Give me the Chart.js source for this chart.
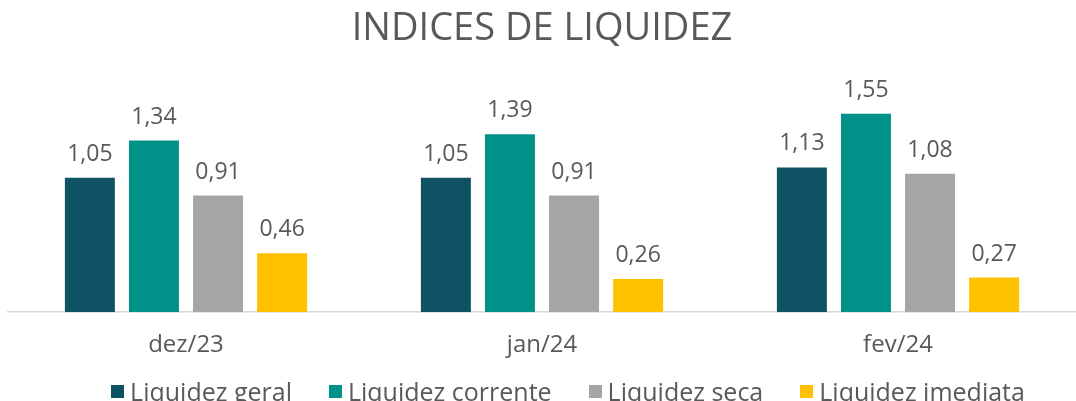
<!DOCTYPE html>
<html>
<head>
<meta charset="utf-8">
<script src="https://cdn.jsdelivr.net/npm/chart.js@4.4.1/dist/chart.umd.min.js"></script>
<style>
  html, body { margin: 0; padding: 0; background: #fff; overflow: hidden; }
  #wrap { position: relative; width: 1076px; height: 401px; }
  #legend {
    position: absolute; left: 0; right: 0; top: 374px;
    display: flex; justify-content: center; gap: 37px; padding-left: 60px;
    font-family: 'Open Sans', 'DejaVu Sans', sans-serif; font-size: 25px; color: #595959;
    white-space: nowrap;
  }
  #legend span.item { display: flex; align-items: center; }
  #legend i { display: inline-block; width: 13px; height: 13px; margin-right: 6px; }
</style>
</head>
<body>
<div id="wrap">
  <canvas id="chart"></canvas>
  <div id="legend"></div>
</div>
<script>
const months = ["dez/23", "jan/24", "fev/24"];
const liqGeral = [1.05, 1.05, 1.13];
const liqCorrente = [1.34, 1.39, 1.55];
const liqSeca = [0.91, 0.91, 1.08];
const liqImediata = [0.46, 0.26, 0.27];

const textColor = "#595959";
const fontFamily = "'Open Sans', 'DejaVu Sans', sans-serif";

// value labels over the bars, pt-BR comma decimals
const barLabels = {
  id: "barLabels",
  afterDatasetsDraw(chart) {
    const ctx = chart.ctx;
    ctx.save();
    ctx.fillStyle = textColor;
    ctx.font = "23px " + fontFamily;
    ctx.textAlign = "center";
    ctx.textBaseline = "alphabetic";
    chart.data.datasets.forEach((ds, i) => {
      chart.getDatasetMeta(i).data.forEach((bar, j) => {
        const txt = ds.data[j].toFixed(2).replace(".", ",");
        ctx.fillText(txt, bar.x, bar.y - 17);
      });
    });
    ctx.restore();
  }
};

const chart = new Chart(document.getElementById("chart"), {
  type: "bar",
  data: {
    labels: months,
    datasets: [
      { label: "Liquidez geral", data: liqGeral, backgroundColor: "#0E5263" },
      { label: "Liquidez corrente", data: liqCorrente, backgroundColor: "#00918A" },
      { label: "Liquidez seca", data: liqSeca, backgroundColor: "#A5A5A5" },
      { label: "Liquidez imediata", data: liqImediata, backgroundColor: "#FFC000" }
    ]
  },
  options: {
    responsive: true,
    maintainAspectRatio: false,
    animation: false,
    datasets: { bar: { categoryPercentage: 0.72, barPercentage: 0.78 } },
    layout: { padding: { left: 8, right: 0, top: 6, bottom: 30 } },
    plugins: {
      title: {
        display: true,
        text: "INDICES DE LIQUIDEZ",
        color: textColor,
        font: { family: fontFamily, size: 38, weight: "normal" },
        padding: { top: 0, bottom: 30 }
      },
      legend: { display: false },
      tooltip: { enabled: false }
    },
    scales: {
      x: {
        grid: { display: false },
        border: { color: "#D9D9D9", width: 1.5 },
        ticks: { color: textColor, font: { family: fontFamily, size: 24 }, padding: 11 }
      },
      y: {
        display: false,
        min: 0,
        max: 1.8
      }
    }
  },
  plugins: [barLabels]
});

// html legend, cut off at the bottom like the original
const legendEl = document.getElementById("legend");
chart.data.datasets.forEach(ds => {
  const item = document.createElement("span");
  item.className = "item";
  const sw = document.createElement("i");
  sw.style.background = ds.backgroundColor;
  item.appendChild(sw);
  item.appendChild(document.createTextNode(ds.label));
  legendEl.appendChild(item);
});
</script>
</body>
</html>
